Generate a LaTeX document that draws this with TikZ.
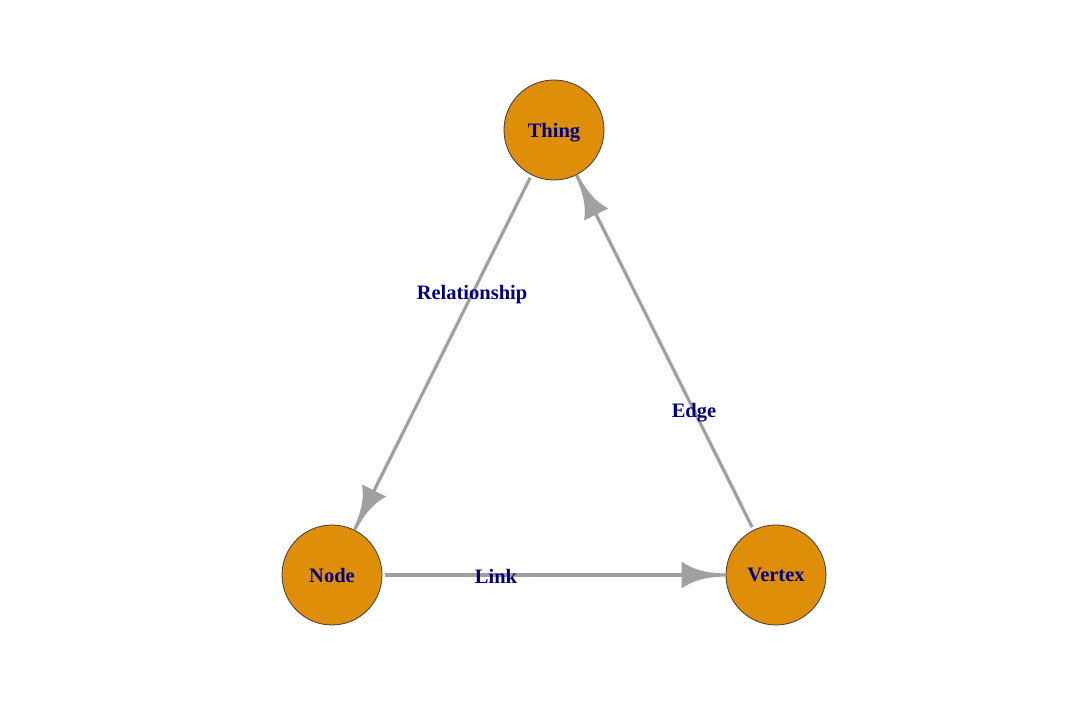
\documentclass[tikz,border=0pt]{standalone}
\usepackage{fontspec}
\setmainfont{Liberation Serif}
\usetikzlibrary{arrows.meta}

% Arrow tip with concave sides and a straight back edge
\pgfdeclarearrow{
  name = IGtip,
  setup code = {
    \pgfarrowssettipend{0pt}
    \pgfarrowssetlineend{-30pt}
    \pgfarrowsupperhullpoint{-44pt}{13.5pt}
    \pgfarrowsupperhullpoint{0pt}{1.6pt}
  },
  drawing code = {
    \pgfpathmoveto{\pgfpoint{0pt}{1.6pt}}
    \pgfpathquadraticcurveto{\pgfpoint{-28pt}{1.6pt}}{\pgfpoint{-44pt}{13.5pt}}
    \pgfpathlineto{\pgfpoint{-44pt}{-13.5pt}}
    \pgfpathquadraticcurveto{\pgfpoint{-28pt}{-1.6pt}}{\pgfpoint{0pt}{-1.6pt}}
    \pgfpathclose
    \pgfusepathqfill
  }
}

\definecolor{vfill}{HTML}{DF8E0A}
\definecolor{vline}{HTML}{3A3A3A}
\definecolor{egray}{HTML}{A0A0A0}
\definecolor{lblue}{HTML}{00007F}

\tikzset{
  vertex/.style={circle, draw=vline, line width=0.8pt, fill=vfill,
    minimum size=100pt, inner sep=0pt, text=lblue, text depth=0pt,
    font=\fontsize{20.5}{24}\selectfont\bfseries},
  link/.style={draw=egray, line width=3.2pt, -{IGtip}, shorten <=3pt},
  elabel/.style={text=lblue, inner sep=0pt, text depth=0pt,
    font=\fontsize{20.5}{24}\selectfont\bfseries}
}

\begin{document}
\begin{tikzpicture}[x=1pt, y=1pt]
  \useasboundingbox (0,0) rectangle (1080,720);

  \node[vertex] (thing)  at (554,590) {Thing};
  \node[vertex] (node)   at (332,145) {Node};
  \node[vertex] (vertex) at (776,145) {Vertex};

  \draw[link] (thing) -- (node);
  \draw[link] (node) -- (vertex);
  \draw[link] (vertex) -- (thing);

  \node[elabel] (lrel)  at (472,428) {Relationship};
  \node[elabel] (ledge) at (694,310) {Edge};
  \node[elabel] (llink) at (496,144) {Link};
\end{tikzpicture}
\end{document}
